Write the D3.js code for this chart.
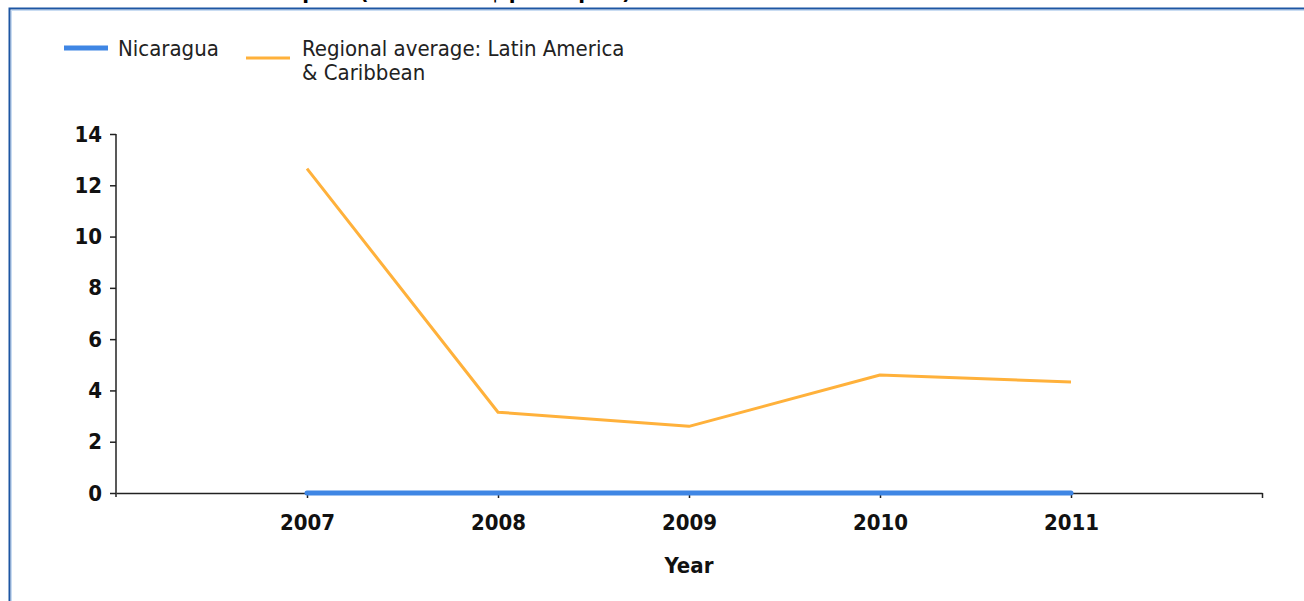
<!DOCTYPE html>
<html>
<head>
<meta charset="utf-8">
<style>
    body { margin: 0; background: #fff; }
    svg { display: block; }
    .lbl { font-family: "DejaVu Sans Condensed", "DejaVu Sans", sans-serif; font-stretch: condensed; }
</style>
</head>
<body>
<svg width="1304" height="601"></svg>
<script src="https://d3js.org/d3.v7.min.js"></script>
<script>
// data
let years = [2007, 2008, 2009, 2010, 2011];
let nicaragua = [0, 0, 0, 0, 0];
let regional = [12.65, 3.15, 2.6, 4.6, 4.33];
let yTicks = [0, 2, 4, 6, 8, 10, 12, 14];
let seriesNames = ["Nicaragua", "Regional average: Latin America", "& Caribbean"];

let svg = d3.select("svg");

// title, cut off by the top of the frame
svg.append("text")
    .attr("class", "lbl")
    .attr("x", 631).attr("y", -1)
    .attr("text-anchor", "end")
    .attr("font-size", 22).attr("font-weight", "bold")
    .text("Investment in capital (current US$ per capita)");

// blue frame
svg.append("rect")
    .attr("x", 9.5).attr("y", 8.5)
    .attr("width", 1400).attr("height", 700)
    .attr("fill", "#fff")
    .attr("stroke", "#1d56a3").attr("stroke-width", 2);
svg.append("rect")
    .attr("x", 11.5).attr("y", 10.5)
    .attr("width", 1400).attr("height", 700)
    .attr("fill", "none")
    .attr("stroke", "#c9dcf2").attr("stroke-width", 1);

//----- scales -----
let x = d3.scaleLinear().domain([2006, 2012]).range([116, 1262]);
let y = d3.scaleLinear().domain([0, 14]).range([493, 134]);

// x axis
let xAxis = svg.append("g")
    .attr("transform", "translate(0,493)")
    .call(d3.axisBottom(x).tickValues(years.concat([2012])).tickSize(5).tickSizeOuter(0)
        .tickFormat(d => d == 2012 ? "" : d));
xAxis.select(".domain").attr("stroke", "#222").attr("stroke-width", 1.5);
xAxis.selectAll(".tick line").attr("stroke", "#222").attr("stroke-width", 1.5);
xAxis.selectAll(".tick text")
    .attr("class", "lbl")
    .attr("font-size", 22).attr("font-weight", "bold").attr("fill", "#111")
    .attr("dy", "1.3em");

// y axis
let yAxis = svg.append("g")
    .attr("transform", "translate(116,0)")
    .call(d3.axisLeft(y).tickValues(yTicks).tickSize(6).tickSizeOuter(0).tickPadding(8));
yAxis.select(".domain").attr("stroke", "#222").attr("stroke-width", 1.5)
    .attr("d", "M0,134V497");
yAxis.selectAll(".tick line").attr("stroke", "#222").attr("stroke-width", 1.5);
yAxis.selectAll(".tick text")
    .attr("class", "lbl")
    .attr("font-size", 22).attr("font-weight", "bold").attr("fill", "#111");

// axis title
svg.append("text")
    .attr("class", "lbl")
    .attr("x", x(2009)).attr("y", 573)
    .attr("text-anchor", "middle")
    .attr("font-size", 22).attr("font-weight", "bold").attr("fill", "#111")
    .text("Year");

//----- lines -----
let line = d3.line()
    .x((d, i) => x(years[i]))
    .y(d => y(d));

svg.append("path")
    .attr("d", line(regional))
    .attr("fill", "none")
    .attr("stroke", "#ffb13b")
    .attr("stroke-width", 3)
    .attr("stroke-linejoin", "round");

svg.append("path")
    .attr("d", line(nicaragua))
    .attr("fill", "none")
    .attr("stroke", "#3f86e4")
    .attr("stroke-width", 5)
    .attr("stroke-linecap", "round");

//----- legend -----
let legend = svg.append("g");
legend.append("line")
    .attr("x1", 64).attr("x2", 108).attr("y1", 48).attr("y2", 48)
    .attr("stroke", "#3f86e4").attr("stroke-width", 5);
legend.append("text")
    .attr("class", "lbl")
    .attr("x", 118).attr("y", 56)
    .attr("font-size", 22).attr("fill", "#222")
    .text(seriesNames[0]);
legend.append("line")
    .attr("x1", 246).attr("x2", 290).attr("y1", 58).attr("y2", 58)
    .attr("stroke", "#ffb13b").attr("stroke-width", 3);
legend.append("text")
    .attr("class", "lbl")
    .attr("x", 302).attr("y", 56)
    .attr("font-size", 22).attr("fill", "#222")
    .text(seriesNames[1]);
legend.append("text")
    .attr("class", "lbl")
    .attr("x", 302).attr("y", 80)
    .attr("font-size", 22).attr("fill", "#222")
    .text(seriesNames[2]);
</script>
</body>
</html>
